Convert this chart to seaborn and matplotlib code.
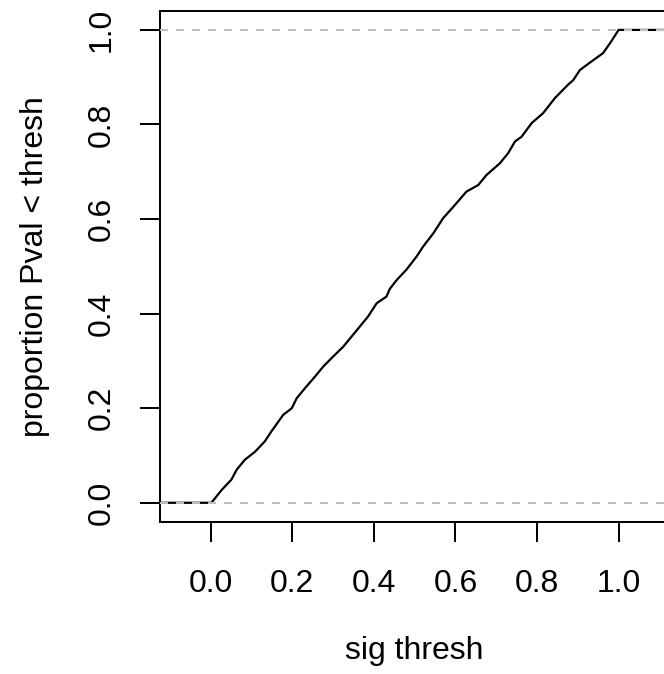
import matplotlib
matplotlib.use("Agg")
import matplotlib.pyplot as plt
import seaborn as sns
import pandas as pd

# ECDF of p-values
sig_thresh = [-0.3, 0.002, 0.027, 0.051, 0.064, 0.084, 0.109, 0.133, 0.149, 0.178,
              0.199, 0.211, 0.231, 0.256, 0.276, 0.300, 0.325, 0.346, 0.366, 0.386,
              0.407, 0.431, 0.439, 0.456, 0.480, 0.505, 0.521, 0.546, 0.570, 0.595,
              0.627, 0.656, 0.676, 0.709, 0.729, 0.746, 0.762, 0.787, 0.815, 0.844,
              0.876, 0.889, 0.905, 0.922, 0.962, 0.979, 1.000, 1.300]
prop_below = [0.0, 0.0, 0.027, 0.049, 0.070, 0.091, 0.108, 0.130, 0.151, 0.186,
              0.200, 0.221, 0.242, 0.267, 0.288, 0.309, 0.330, 0.352, 0.373, 0.394,
              0.422, 0.436, 0.452, 0.471, 0.493, 0.521, 0.542, 0.570, 0.602, 0.626,
              0.658, 0.672, 0.693, 0.718, 0.739, 0.764, 0.774, 0.803, 0.824, 0.856,
              0.884, 0.894, 0.915, 0.926, 0.951, 0.972, 1.000, 1.000]
ref_lines = [0.0, 1.0]
x_ticks = [0.0, 0.2, 0.4, 0.6, 0.8, 1.0]
y_ticks = [0.0, 0.2, 0.4, 0.6, 0.8, 1.0]
x_label = "sig thresh"
y_label = "proportion Pval < thresh"

sns.set_theme(style="white")
plt.rcParams["font.family"] = ["Liberation Sans", "DejaVu Sans"]

W, H = 664, 674
fig = plt.figure(figsize=(W / 100, H / 100), dpi=100)
left, right, top, bottom = 160, 669.2, 11, 521.7
ax = fig.add_axes([left / W, 1 - bottom / H, (right - left) / W, (bottom - top) / H])

df = pd.DataFrame({"x": sig_thresh, "y": prop_below})
sns.lineplot(data=df, x="x", y="y", sort=False, estimator=None, color="black",
             linewidth=1.6, ax=ax, zorder=2)
for v in ref_lines:
    ax.axhline(v, color="#bebebe", linewidth=1.44, linestyle=(0, (4, 4)), zorder=3)

ax.set_xlim(-0.124, 1.124)
ax.set_ylim(-0.04, 1.04)
ax.set_xticks(x_ticks)
ax.set_yticks(y_ticks)
ax.set_xticklabels([f"{t:.1f}" for t in x_ticks])
ax.set_yticklabels([f"{t:.1f}" for t in y_ticks])
fs = 23
ax.tick_params(axis="both", direction="out", length=14.4, width=1.44, color="black",
               labelsize=fs, labelcolor="black", bottom=True, left=True)
ax.tick_params(axis="x", pad=20)
ax.tick_params(axis="y", pad=16.5)
for lbl in ax.get_yticklabels():
    lbl.set_rotation(90)
    lbl.set_va("center")
for s in ax.spines.values():
    s.set_color("black")
    s.set_linewidth(1.44)
ax.set_xlabel(x_label, fontsize=fs, color="black", labelpad=26.5)
ax.set_ylabel(y_label, fontsize=fs, color="black", labelpad=26.5)
ax.grid(False)

fig.savefig("out.png", dpi=100, facecolor="white")
